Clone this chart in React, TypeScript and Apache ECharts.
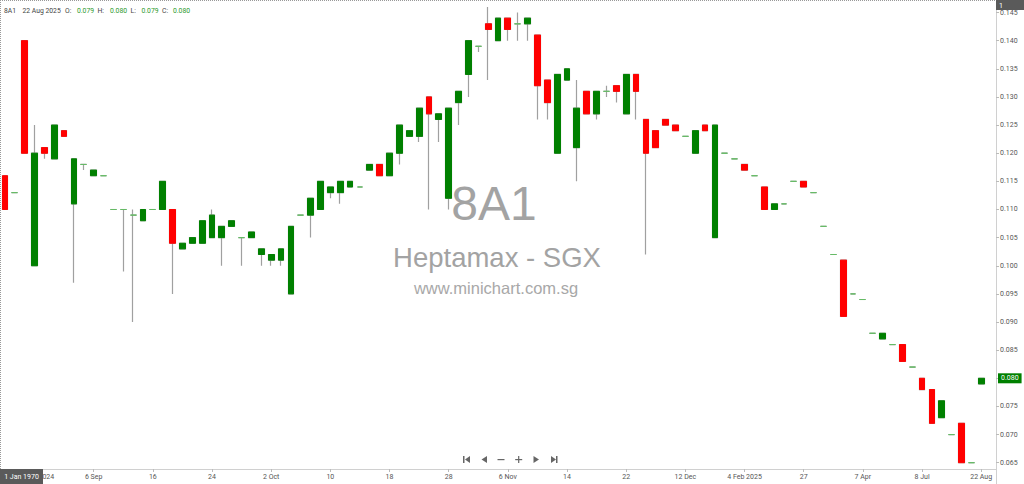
import { useEffect, useRef } from 'react';
import * as echarts from 'echarts';

// tick labels shown under every 6th bar, starting at bar 3
const xLabels = ['29 Aug 2024', '6 Sep', '16', '24', '2 Oct', '10', '18', '28', '6 Nov', '14', '22', '12 Dec', '4 Feb 2025', '27', '7 Apr', '8 Jul', '22 Aug'];
const yTicks = [0.065, 0.07, 0.075, 0.08, 0.085, 0.09, 0.095, 0.1, 0.105, 0.11, 0.115, 0.12, 0.125, 0.13, 0.135, 0.14, 0.145];

const opens = [
  0.116, 0.113, 0.140, 0.100, 0.121, 0.119, 0.124, 0.111, 0.118, 0.116,
  0.116, 0.110, 0.110, 0.109, 0.108, 0.110, 0.110, 0.110, 0.103, 0.104,
  0.104, 0.105, 0.105, 0.107, 0.105, 0.105, 0.102, 0.101, 0.101, 0.095,
  0.109, 0.109, 0.110, 0.113, 0.113, 0.114, 0.114, 0.117, 0.118, 0.116,
  0.120, 0.123, 0.123, 0.130, 0.126, 0.112, 0.129, 0.134, 0.139, 0.143,
  0.140, 0.144, 0.143, 0.143, 0.141, 0.133, 0.120, 0.133, 0.121, 0.131,
  0.127, 0.131, 0.132, 0.127, 0.134, 0.126, 0.124, 0.126, 0.125, 0.123,
  0.120, 0.125, 0.105, 0.120, 0.119, 0.118, 0.116, 0.114, 0.110, 0.111,
  0.115, 0.115, 0.113, 0.107, 0.102, 0.101, 0.095, 0.094, 0.088, 0.087,
  0.086, 0.086, 0.082, 0.080, 0.078, 0.073, 0.070, 0.072, 0.065, 0.079,
];
const closes = [
  0.110, 0.113, 0.120, 0.120, 0.120, 0.125, 0.123, 0.119, 0.118, 0.117,
  0.116, 0.110, 0.110, 0.109, 0.110, 0.110, 0.115, 0.104, 0.104, 0.105,
  0.108, 0.109, 0.107, 0.108, 0.105, 0.106, 0.103, 0.102, 0.103, 0.107,
  0.109, 0.112, 0.115, 0.114, 0.115, 0.115, 0.114, 0.118, 0.116, 0.120,
  0.125, 0.124, 0.128, 0.127, 0.127, 0.128, 0.131, 0.140, 0.139, 0.142,
  0.144, 0.142, 0.143, 0.144, 0.132, 0.129, 0.134, 0.135, 0.128, 0.127,
  0.131, 0.131, 0.131, 0.134, 0.131, 0.120, 0.121, 0.125, 0.124, 0.123,
  0.124, 0.124, 0.125, 0.120, 0.119, 0.117, 0.116, 0.110, 0.111, 0.111,
  0.115, 0.114, 0.113, 0.107, 0.102, 0.091, 0.095, 0.094, 0.088, 0.088,
  0.086, 0.083, 0.082, 0.078, 0.072, 0.076, 0.070, 0.065, 0.065, 0.080,
];
const lows = [
  0.110, 0.113, 0.120, 0.100, 0.119, 0.119, 0.123, 0.097, 0.117, 0.116,
  0.116, 0.110, 0.099, 0.090, 0.108, 0.110, 0.110, 0.095, 0.103, 0.104,
  0.104, 0.105, 0.100, 0.107, 0.100, 0.105, 0.100, 0.100, 0.100, 0.095,
  0.109, 0.105, 0.110, 0.112, 0.111, 0.114, 0.114, 0.117, 0.116, 0.116,
  0.118, 0.123, 0.122, 0.110, 0.122, 0.110, 0.125, 0.130, 0.138, 0.133,
  0.140, 0.140, 0.140, 0.140, 0.126, 0.126, 0.120, 0.133, 0.115, 0.127,
  0.126, 0.130, 0.129, 0.127, 0.126, 0.102, 0.121, 0.125, 0.124, 0.123,
  0.120, 0.124, 0.105, 0.120, 0.119, 0.117, 0.116, 0.110, 0.110, 0.111,
  0.115, 0.114, 0.113, 0.107, 0.102, 0.091, 0.095, 0.094, 0.088, 0.087,
  0.086, 0.083, 0.082, 0.078, 0.072, 0.073, 0.070, 0.065, 0.065, 0.079,
];
const highs = [
  0.116, 0.113, 0.140, 0.125, 0.121, 0.125, 0.124, 0.119, 0.118, 0.117,
  0.116, 0.110, 0.110, 0.110, 0.110, 0.110, 0.115, 0.110, 0.104, 0.105,
  0.108, 0.110, 0.107, 0.108, 0.105, 0.106, 0.103, 0.102, 0.103, 0.107,
  0.109, 0.112, 0.115, 0.114, 0.115, 0.115, 0.114, 0.118, 0.118, 0.120,
  0.125, 0.124, 0.128, 0.130, 0.127, 0.128, 0.131, 0.140, 0.139, 0.146,
  0.144, 0.144, 0.145, 0.144, 0.141, 0.133, 0.134, 0.135, 0.133, 0.131,
  0.131, 0.132, 0.132, 0.134, 0.134, 0.126, 0.124, 0.126, 0.125, 0.123,
  0.124, 0.125, 0.125, 0.120, 0.119, 0.118, 0.116, 0.114, 0.111, 0.111,
  0.115, 0.115, 0.113, 0.107, 0.102, 0.101, 0.095, 0.094, 0.088, 0.088,
  0.086, 0.086, 0.082, 0.080, 0.078, 0.076, 0.070, 0.072, 0.065, 0.080,
];

const UP = '#008000';
const DOWN = '#ff0000';
const DOJI = '#66bb66';
const WICK = '#a0a0a0';
const TEXT = '#555';
const FONT = 'Roboto, "Noto Sans", sans-serif';
const NARROW = '"Liberation Sans Narrow", "Arial Narrow", Roboto, sans-serif';
const last = opens.length - 1;

// one extra empty slot on the right, as in the source chart
const categories = [...opens.map((_, i) => String(i)), ''];
const showTick = (i: number) => i % 6 === 3 && i < opens.length;

const wickData = opens.map((o, i) => [o, closes[i], lows[i], highs[i]]);
const bodyData = opens.map((o, i) => [o, closes[i], Math.min(o, closes[i]), Math.max(o, closes[i])]);

const headerItems: [string, number, boolean][] = [
  ['8A1', 4, false],
  ['22 Aug 2025', 22.5, false],
  ['O:', 65, false],
  [opens[last].toFixed(3), 77, true],
  ['H:', 97.5, false],
  [highs[last].toFixed(3), 110, true],
  ['L:', 130.5, false],
  [lows[last].toFixed(3), 141.5, true],
  ['C:', 162, false],
  [closes[last].toFixed(3), 173, true],
];

const navColor = '#666';

export default function App() {
  const ref = useRef<HTMLDivElement | null>(null);
  useEffect(() => {
    if (!ref.current) return;
    const chart = echarts.init(ref.current, undefined, { renderer: 'svg' });
    chart.setOption({
      animation: false,
      backgroundColor: '#fff',
      textStyle: { fontFamily: FONT },
      grid: { left: 0, right: 28, top: 0, bottom: 15, containLabel: false },
      xAxis: {
        type: 'category',
        data: categories,
        boundaryGap: true,
        axisLine: { lineStyle: { color: '#d0d0d0' } },
        axisTick: { show: true, alignWithLabel: true, interval: showTick, length: 3, lineStyle: { color: '#bbb' } },
        axisLabel: {
          interval: showTick,
          formatter: (_v: string, i: number) => (showTick(i) ? xLabels[(i - 3) / 6] : ''),
          color: TEXT,
          fontSize: 7,
          margin: 4,
          fontFamily: FONT,
        },
        splitLine: { show: false },
      },
      yAxis: {
        type: 'value',
        position: 'right',
        scale: true,
        min: 0.06388,
        max: 0.14723,
        axisLine: { show: true, lineStyle: { color: '#d0d0d0' } },
        axisTick: { show: true, length: 3, customValues: yTicks, lineStyle: { color: '#bbb' } },
        axisLabel: {
          customValues: yTicks,
          formatter: (v: number) => v.toFixed(3),
          color: TEXT,
          fontSize: 7,
          margin: 4,
          fontFamily: FONT,
        },
        splitLine: { show: false },
      },
      series: [
        {
          name: 'range',
          type: 'candlestick',
          data: wickData,
          barWidth: 6.3,
          itemStyle: {
            color: WICK,
            color0: WICK,
            borderColor: WICK,
            borderColor0: WICK,
            borderColorDoji: WICK,
            borderWidth: 1.2,
          },
          silent: true,
        },
        {
          name: '8A1',
          type: 'candlestick',
          data: bodyData,
          barWidth: 6.3,
          itemStyle: {
            color: UP,
            color0: DOWN,
            borderColor: UP,
            borderColor0: DOWN,
            borderColorDoji: DOJI,
            borderWidth: 1,
          },
          markLine: {
            silent: true,
            symbol: 'none',
            lineStyle: { color: 'transparent', width: 1 },
            label: {
              show: true,
              position: 'end',
              formatter: () => closes[last].toFixed(3),
              backgroundColor: UP,
              color: '#fff',
              fontSize: 7,
              fontFamily: FONT,
              padding: [2, 3, 1, 3],
              distance: 2,
            },
            data: [{ yAxis: closes[last] }],
          },
        },
      ],
      graphic: [
        // watermark
        { type: 'text', z: 0, style: { text: '8A1', x: 494, y: 203, textAlign: 'center', textVerticalAlign: 'middle', font: '48px "Liberation Sans", Arial, sans-serif', fill: '#a3a3a3' } },
        { type: 'text', z: 0, style: { text: 'Heptamax - SGX', x: 497, y: 257, textAlign: 'center', textVerticalAlign: 'middle', font: '27.5px "Liberation Sans", Arial, sans-serif', fill: '#a3a3a3' } },
        { type: 'text', z: 0, style: { text: 'www.minichart.com.sg', x: 496, y: 288, textAlign: 'center', textVerticalAlign: 'middle', font: '16.5px "Liberation Sans", Arial, sans-serif', fill: '#a8a8a8' } },
        // header
        ...headerItems.map(([t, x, green]) => ({
          type: 'text',
          z: 50,
          style: { text: t, x, y: 10.5, textVerticalAlign: 'middle', font: `6.8px ${NARROW}`, fill: green ? '#2e9a2e' : '#444' },
        })),
        // dotted frame
        { type: 'line', z: 50, shape: { x1: 0, y1: 0.5, x2: 996, y2: 0.5 }, style: { stroke: '#999', lineWidth: 1, lineDash: [1, 1] } },
        { type: 'line', z: 50, shape: { x1: 0.5, y1: 0, x2: 0.5, y2: 469 }, style: { stroke: '#999', lineWidth: 1, lineDash: [1, 1] } },
        { type: 'line', z: 50, shape: { x1: 996.5, y1: 469, x2: 996.5, y2: 484 }, style: { stroke: '#d0d0d0', lineWidth: 1 } },
        // "1" tag top-right
        { type: 'rect', z: 100, shape: { x: 996, y: 0, width: 28, height: 10 }, style: { fill: '#5a5a5a' } },
        { type: 'text', z: 101, style: { text: '1', x: 999, y: 5.5, textVerticalAlign: 'middle', font: `7px ${FONT}`, fill: '#fff' } },
        // date tag bottom-left
        { type: 'rect', z: 100, shape: { x: 0, y: 469, width: 43, height: 15 }, style: { fill: '#5a5a5a' } },
        { type: 'text', z: 101, style: { text: '1 Jan 1970', x: 21.5, y: 476.5, textAlign: 'center', textVerticalAlign: 'middle', font: `7px ${FONT}`, fill: '#fff' } },
        // navigation buttons
        { type: 'rect', z: 50, shape: { x: 463, y: 456, width: 1.5, height: 7 }, style: { fill: navColor } },
        { type: 'polygon', z: 50, shape: { points: [[470, 456], [470, 463], [465, 459.5]] }, style: { fill: navColor } },
        { type: 'polygon', z: 50, shape: { points: [[487, 456], [487, 463], [481.5, 459.5]] }, style: { fill: navColor } },
        { type: 'rect', z: 50, shape: { x: 497.5, y: 459, width: 7, height: 1.2 }, style: { fill: navColor } },
        { type: 'rect', z: 50, shape: { x: 515.2, y: 459, width: 7, height: 1.2 }, style: { fill: navColor } },
        { type: 'rect', z: 50, shape: { x: 518.1, y: 456, width: 1.2, height: 7 }, style: { fill: navColor } },
        { type: 'polygon', z: 50, shape: { points: [[533.5, 456], [533.5, 463], [539, 459.5]] }, style: { fill: navColor } },
        { type: 'polygon', z: 50, shape: { points: [[551, 456], [551, 463], [556, 459.5]] }, style: { fill: navColor } },
        { type: 'rect', z: 50, shape: { x: 556, y: 456, width: 1.5, height: 7 }, style: { fill: navColor } },
      ],
    });
    return () => chart.dispose();
  }, []);
  return <div ref={ref} style={{ position: 'fixed', left: 0, top: 0, width: 1024, height: 484 }} />;
}
